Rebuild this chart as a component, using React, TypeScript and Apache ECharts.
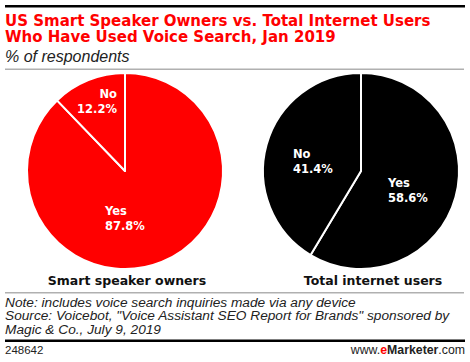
import React, { useEffect, useRef } from "react";
import * as echarts from "echarts";

const categories = ["Yes", "No"];
const smartSpeakerValues = [87.8, 12.2];
const internetUserValues = [58.6, 41.4];
const pieCaptions = ["Smart speaker owners", "Total internet users"];
const titleLines = [
  "US Smart Speaker Owners vs. Total Internet Users",
  "Who Have Used Voice Search, Jan 2019",
];
const subtitle = "% of respondents";
const noteLines = [
  "Note: includes voice search inquiries made via any device",
  'Source: Voicebot, "Voice Assistant SEO Report for Brands" sponsored by',
  "Magic & Co., July 9, 2019",
];
const chartId = "248642";

const RED = "#ff0000";
const BOLD = "'DejaVu Sans', Verdana, sans-serif";
const SANS = "'Liberation Sans', Arial, sans-serif";

export default function App() {
  const ref = useRef<HTMLDivElement>(null);

  useEffect(() => {
    if (!ref.current) return;
    const chart = echarts.init(ref.current, null, { renderer: "svg" });

    const labelStyle = {
      show: true,
      position: "inside" as const,
      formatter: "{b}\n{c}%",
      color: "#fff",
      fontFamily: BOLD,
      fontWeight: "bold" as const,
      fontSize: 11.5,
      lineHeight: 15,
    };

    const leftLayout = [
      { x: 105, y: 218, align: "left", verticalAlign: "middle" },
      { x: 117, y: 101, align: "right", verticalAlign: "middle" },
    ];
    const rightLayout = [
      { x: 388, y: 190.5, align: "left", verticalAlign: "middle" },
      { x: 293, y: 161.5, align: "left", verticalAlign: "middle" },
    ];

    chart.setOption({
      animation: false,
      backgroundColor: "#fff",
      series: [
        {
          type: "pie",
          center: [125, 171],
          radius: [0, 98],
          startAngle: 90,
          clockwise: true,
          silent: true,
          itemStyle: { color: RED, borderColor: "#fff", borderWidth: 2 },
          label: labelStyle,
          labelLine: { show: false },
          labelLayout: (p: any) => leftLayout[p.dataIndex],
          data: categories.map((c, i) => ({ name: c, value: smartSpeakerValues[i] })),
        },
        {
          type: "pie",
          center: [361, 171],
          radius: [0, 98],
          startAngle: 90,
          clockwise: true,
          silent: true,
          itemStyle: { color: "#000", borderColor: "#fff", borderWidth: 2 },
          label: labelStyle,
          labelLine: { show: false },
          labelLayout: (p: any) => rightLayout[p.dataIndex],
          data: categories.map((c, i) => ({ name: c, value: internetUserValues[i] })),
        },
      ],
      graphic: [
        { type: "rect", shape: { x: 5, y: 5, width: 460, height: 2.6 }, style: { fill: "#000" } },
        {
          type: "text",
          x: 5,
          y: 20.8,
          style: { text: titleLines[0], fill: RED, font: `bold 15px ${BOLD}`, verticalAlign: "middle" },
        },
        {
          type: "text",
          x: 5,
          y: 37.3,
          style: { text: titleLines[1], fill: RED, font: `bold 15px ${BOLD}`, verticalAlign: "middle" },
        },
        {
          type: "text",
          x: 5,
          y: 56,
          style: { text: subtitle, fill: "#222", font: `italic 16px ${SANS}`, verticalAlign: "middle" },
        },
        { type: "rect", shape: { x: 5, y: 68.5, width: 459, height: 1.5 }, style: { fill: "#b0b0b0" } },
        {
          type: "text",
          x: 127,
          y: 280.6,
          style: { text: pieCaptions[0], fill: "#111", font: `bold 12.5px ${BOLD}`, align: "center", verticalAlign: "middle" },
        },
        {
          type: "text",
          x: 373,
          y: 280.6,
          style: { text: pieCaptions[1], fill: "#111", font: `bold 12.5px ${BOLD}`, align: "center", verticalAlign: "middle" },
        },
        { type: "rect", shape: { x: 5, y: 292, width: 459, height: 1.5 }, style: { fill: "#b0b0b0" } },
        ...noteLines.map((t, i) => ({
          type: "text",
          x: 5,
          y: 302.2 + i * 13.7,
          style: { text: t, fill: "#222", font: `italic 13.7px ${SANS}`, verticalAlign: "middle" },
        })),
        { type: "rect", shape: { x: 5, y: 339.5, width: 460, height: 2.6 }, style: { fill: "#000" } },
        {
          type: "text",
          x: 5,
          y: 350,
          style: { text: chartId, fill: "#222", font: `11.5px ${SANS}`, verticalAlign: "middle" },
        },
        {
          type: "text",
          x: 465,
          y: 350,
          style: {
            text: "{a|www.}{b|e}{c|Marketer}{a|.com}",
            align: "right",
            verticalAlign: "middle",
            rich: {
              a: { fontFamily: SANS, fontSize: 12.3, fill: "#222" },
              b: { fontFamily: SANS, fontSize: 12.3, fontWeight: "bold", fill: RED },
              c: { fontFamily: SANS, fontSize: 12.3, fontWeight: "bold", fill: "#222" },
            },
          },
        },
      ],
    });

    return () => chart.dispose();
  }, []);

  return (
    <div
      ref={ref}
      style={{ position: "fixed", left: 0, top: 0, width: 470, height: 362, background: "#fff" }}
    />
  );
}
